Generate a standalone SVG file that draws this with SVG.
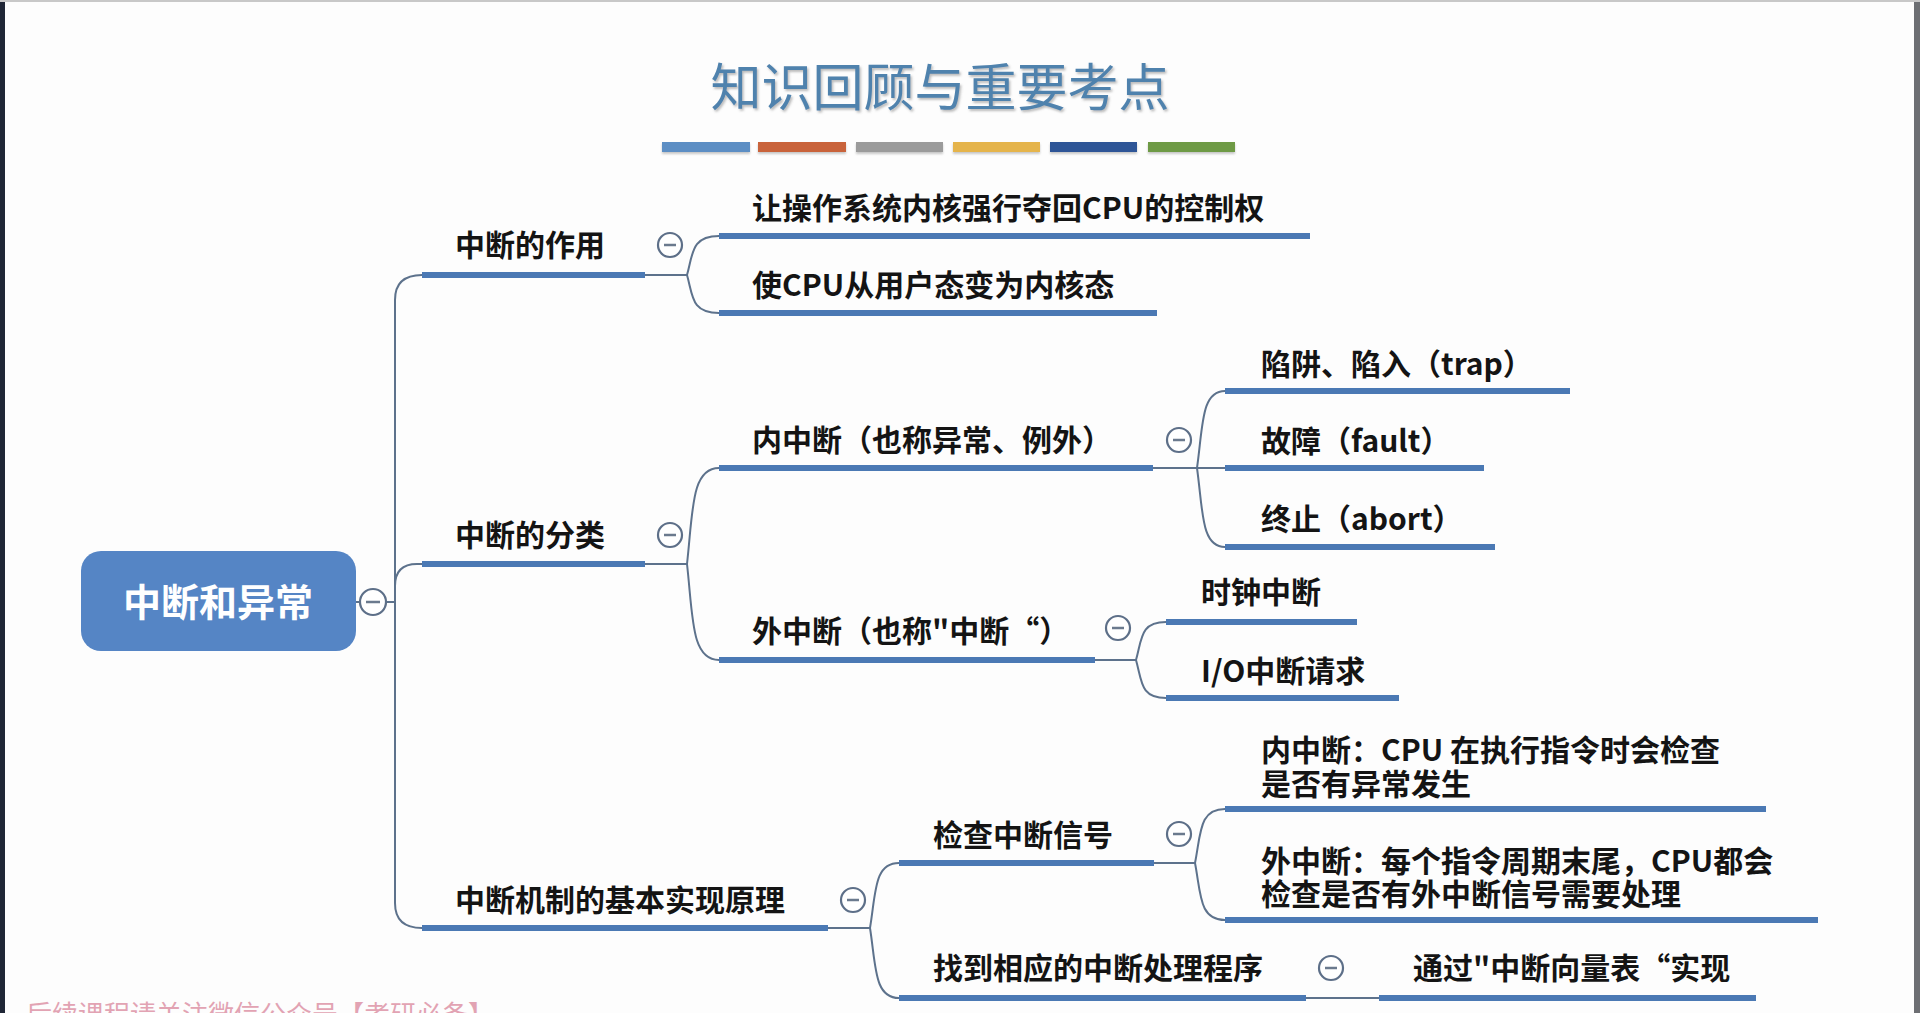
<svg xmlns="http://www.w3.org/2000/svg" width="1920" height="1013" viewBox="0 0 1920 1013">
<defs>
<style>
.lbl{font-family:"Noto Sans CJK SC","Noto Sans",sans-serif;font-size:30px;fill:#141414;font-weight:600}
.ul{stroke:#4b79b4;stroke-width:6;stroke-linecap:butt;fill:none}
.cn{stroke:#5d728c;stroke-width:2;fill:none}
.tg circle{fill:#fff;stroke:#5d6f88;stroke-width:2.2}
.tg line{stroke:#6b7a8e;stroke-width:2.5}
</style>
<filter id="sh" x="-5%" y="-20%" width="110%" height="150%">
<feDropShadow dx="1.5" dy="2" stdDeviation="1.2" flood-color="#6a6a6a" flood-opacity="0.45"/>
</filter>
<filter id="bs" x="-5%" y="-50%" width="110%" height="250%">
<feDropShadow dx="0" dy="2" stdDeviation="1.2" flood-color="#777" flood-opacity="0.4"/>
</filter>
</defs>
<rect x="0" y="0" width="1920" height="1013" fill="#fdfdfd"/>
<rect x="0" y="0" width="5" height="1013" fill="#1f2636"/>
<rect x="1914" y="0" width="6" height="1013" fill="#6d6f73"/>
<rect x="0" y="0" width="1920" height="2" fill="#c8c8c8"/>

<g id="title">
<text x="940" y="106" text-anchor="middle" font-family="'Noto Sans CJK SC','Noto Sans',sans-serif" font-size="51" fill="#4f82ad" filter="url(#sh)">知识回顾与重要考点</text>
<g filter="url(#bs)">
<rect x="662" y="142" width="88" height="10" fill="#5b8ec4"/>
<rect x="758" y="142" width="88" height="10" fill="#c9643a"/>
<rect x="856" y="142" width="87" height="10" fill="#9b9b9b"/>
<rect x="953" y="142" width="87" height="10" fill="#e5b44b"/>
<rect x="1050" y="142" width="87" height="10" fill="#2f5597"/>
<rect x="1148" y="142" width="87" height="10" fill="#6e9a45"/>
</g>
</g>

<g id="connectors">
<line class="cn" x1="356" y1="602" x2="395" y2="602"/>
<path class="cn" d="M422,275 Q395,275 395,300 L395,903 Q395,928 422,928"/>
<path class="cn" d="M395,586 Q395,564 417,564 L422,564"/>
<line class="cn" x1="645" y1="275" x2="687" y2="275"/>
<path class="cn" d="M687,275 C693,254 691,236 719,236"/>
<path class="cn" d="M687,275 C693,296 691,313 719,313"/>
<line class="cn" x1="645" y1="564" x2="687" y2="564"/>
<path class="cn" d="M687,564 C693,511 691,468 719,468"/>
<path class="cn" d="M687,564 C693,617 691,660 719,660"/>
<line class="cn" x1="828" y1="928" x2="870" y2="928"/>
<path class="cn" d="M870,928 C876,892 874,863 899,863"/>
<path class="cn" d="M870,928 C876,966 874,998 899,998"/>
<line class="cn" x1="1153" y1="468" x2="1225" y2="468"/>
<path class="cn" d="M1197,468 C1203,426 1201,391 1225,391"/>
<path class="cn" d="M1197,468 C1203,511 1201,547 1225,547"/>
<line class="cn" x1="1095" y1="660" x2="1136" y2="660"/>
<path class="cn" d="M1136,660 C1142,639 1140,622 1166,622"/>
<path class="cn" d="M1136,660 C1142,681 1140,698 1166,698"/>
<line class="cn" x1="1154" y1="863" x2="1195" y2="863"/>
<path class="cn" d="M1195,863 C1201,833 1199,809 1225,809"/>
<path class="cn" d="M1195,863 C1201,894 1199,920 1225,920"/>
<line class="cn" x1="1306" y1="998" x2="1379" y2="998" stroke="#7d8794"/>
</g>

<g id="root">
<rect x="81" y="551" width="275" height="100" rx="20" fill="#5585c5"/>
<text x="218" y="616" text-anchor="middle" font-family="'Noto Sans CJK SC','Noto Sans',sans-serif" font-size="38" font-weight="700" fill="#ffffff">中断和异常</text>
<g class="tg"><circle cx="373" cy="602" r="13"/><line x1="366" y1="602" x2="380" y2="602"/></g>
</g>

<g id="n-zuoyong">
<line class="ul" x1="422" y1="275" x2="645" y2="275"/>
<text class="lbl" x="455" y="256">中断的作用</text>
<g class="tg"><circle cx="670" cy="245" r="12"/><line x1="664" y1="245" x2="676" y2="245"/></g>
</g>
<g id="n-duoqu">
<line class="ul" x1="719" y1="236" x2="1310" y2="236"/>
<text class="lbl" x="752" y="219">让操作系统内核强行夺回CPU的控制权</text>
</g>
<g id="n-bianwei">
<line class="ul" x1="719" y1="313" x2="1157" y2="313"/>
<text class="lbl" x="752" y="296">使CPU从用户态变为内核态</text>
</g>

<g id="n-fenlei">
<line class="ul" x1="422" y1="564" x2="645" y2="564"/>
<text class="lbl" x="455" y="546">中断的分类</text>
<g class="tg"><circle cx="670" cy="535" r="12"/><line x1="664" y1="535" x2="676" y2="535"/></g>
</g>
<g id="n-neizhongduan">
<line class="ul" x1="719" y1="468" x2="1153" y2="468"/>
<text class="lbl" x="752" y="451">内中断（也称异常、例外）</text>
<g class="tg"><circle cx="1179" cy="440" r="12"/><line x1="1173" y1="440" x2="1185" y2="440"/></g>
</g>
<g id="n-trap">
<line class="ul" x1="1225" y1="391" x2="1570" y2="391"/>
<text class="lbl" x="1261" y="375">陷阱、陷入（trap）</text>
</g>
<g id="n-fault">
<line class="ul" x1="1225" y1="468" x2="1484" y2="468"/>
<text class="lbl" x="1261" y="452">故障（fault）</text>
</g>
<g id="n-abort">
<line class="ul" x1="1225" y1="547" x2="1495" y2="547"/>
<text class="lbl" x="1261" y="530">终止（abort）</text>
</g>
<g id="n-waizhongduan">
<line class="ul" x1="719" y1="660" x2="1095" y2="660"/>
<text class="lbl" x="752" y="642">外中断（也称"中断“）</text>
<g class="tg"><circle cx="1118" cy="628" r="12"/><line x1="1112" y1="628" x2="1124" y2="628"/></g>
</g>
<g id="n-clock">
<line class="ul" x1="1166" y1="622" x2="1357" y2="622"/>
<text class="lbl" x="1201" y="603">时钟中断</text>
</g>
<g id="n-io">
<line class="ul" x1="1166" y1="698" x2="1399" y2="698"/>
<text class="lbl" x="1201" y="682">I/O中断请求</text>
</g>

<g id="n-jizhi">
<line class="ul" x1="422" y1="928" x2="828" y2="928"/>
<text class="lbl" x="455" y="911">中断机制的基本实现原理</text>
<g class="tg"><circle cx="853" cy="900" r="12"/><line x1="847" y1="900" x2="859" y2="900"/></g>
</g>
<g id="n-jiancha">
<line class="ul" x1="899" y1="863" x2="1154" y2="863"/>
<text class="lbl" x="933" y="846">检查中断信号</text>
<g class="tg"><circle cx="1179" cy="834" r="12"/><line x1="1173" y1="834" x2="1185" y2="834"/></g>
</g>
<g id="n-nei-check">
<line class="ul" x1="1225" y1="809" x2="1766" y2="809"/>
<text class="lbl" x="1261" y="761">内中断：CPU 在执行指令时会检查</text>
<text class="lbl" x="1261" y="795">是否有异常发生</text>
</g>
<g id="n-wai-check">
<line class="ul" x1="1225" y1="920" x2="1818" y2="920"/>
<text class="lbl" x="1261" y="872">外中断：每个指令周期末尾，CPU都会</text>
<text class="lbl" x="1261" y="905">检查是否有外中断信号需要处理</text>
</g>
<g id="n-zhaodao">
<line class="ul" x1="899" y1="998" x2="1306" y2="998"/>
<text class="lbl" x="933" y="979">找到相应的中断处理程序</text>
<g class="tg"><circle cx="1331" cy="968" r="12"/><line x1="1325" y1="968" x2="1337" y2="968"/></g>
</g>
<g id="n-vector">
<line class="ul" x1="1379" y1="998" x2="1756" y2="998"/>
<text class="lbl" x="1413" y="979">通过"中断向量表“实现</text>
</g>

<text x="26" y="1024" font-family="'Noto Sans CJK SC','Noto Sans',sans-serif" font-size="26" fill="#e2a3b3">后续课程请关注微信公众号【考研必备】</text>
</svg>
